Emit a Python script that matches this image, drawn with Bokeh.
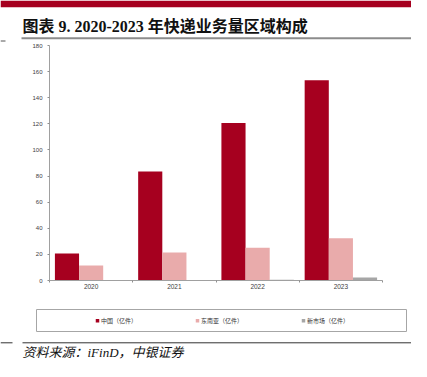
from bokeh.plotting import figure
from bokeh.models import Range1d, FixedTicker, ColumnDataSource
from bokeh.layouts import column
from bokeh.core.properties import value
from bokeh.embed import file_html
from bokeh.resources import INLINE

# ---- data ----
years = ["2020", "2021", "2022", "2023"]
china = [20.7, 83.5, 120.6, 153.4]
sea = [11.5, 21.4, 25.0, 32.3]
new_market = [0.0, 0.0, 0.6, 2.3]
series_names = ["中国（亿件）", "东南亚（亿件）", "新市场（亿件）"]
y_ticks = [0, 20, 40, 60, 80, 100, 120, 140, 160, 180]

title_text = "图表 9. 2020-2023 年快递业务量区域构成"
source_text = "资料来源：iFinD，中银证券"

colors = ["#a6001f", "#e9abab", "#a6a6a6"]
W = 411
CJK = "'Liberation Serif', 'Noto Sans CJK SC'"
SANS_CJK = "'Noto Sans CJK SC'"


def blank(height):
    f = figure(width=W, height=height, output_backend="svg", toolbar_location=None,
               x_range=Range1d(0, W), y_range=Range1d(height, 0),
               min_border=0, outline_line_color=None, background_fill_color="white",
               frame_align=False)
    f.axis.visible = False
    f.grid.visible = False
    return f

# ---- header ----
HH = 42
head = blank(HH)
head.quad(left=[0], right=[W], top=[0], bottom=[6.7], fill_color="#a6001f", line_color=None)
head.text(x=[22], y=[25.5], text=[title_text], text_font=value(CJK), text_font_size="16px",
          text_font_style="bold", text_baseline="middle", text_align="left", text_color="#111111")
head.segment(x0=[21], y0=[37.8], x1=[W], y1=[37.8], line_color="#8c8c8c", line_width=2)
head.segment(x0=[0], y0=[40.5], x1=[5], y1=[40.5], line_color="#555555", line_width=1)

# ---- main chart ----
MH = 258
p = figure(width=W, height=MH, output_backend="svg", toolbar_location=None,
           x_range=Range1d(0, len(years)), y_range=Range1d(0, 180),
           min_border_top=3, min_border_bottom=20, min_border_left=49, min_border_right=29,
           outline_line_color=None, background_fill_color="white", frame_align=False)
p.grid.visible = False

bw = 0.29
offsets = [-bw, 0.0, bw]
for series, off, col in zip([china, sea, new_market], offsets, colors):
    xs = [i + 0.5 + off for i in range(len(years))]
    src = ColumnDataSource(dict(x=xs, top=series))
    p.vbar(x="x", top="top", bottom=0, width=bw, source=src, fill_color=col, line_color=None)

xa = p.xaxis[0]
xa.ticker = FixedTicker(ticks=[i + 0.5 for i in range(len(years))],
                        minor_ticks=list(range(len(years) + 1)))
xa.major_label_overrides = {i + 0.5: y for i, y in enumerate(years)}
xa.major_tick_out = 0
xa.major_tick_in = 0
xa.minor_tick_out = 2
xa.minor_tick_in = 0
xa.minor_tick_line_color = "#909090"
xa.axis_line_color = "#a0a0a0"
xa.major_label_standoff = 1
xa.major_label_text_font_size = "6.5px"
xa.major_label_text_color = "#404040"
xa.major_label_text_font = "Liberation Sans"

ya = p.yaxis[0]
ya.ticker = FixedTicker(ticks=y_ticks)
ya.major_tick_out = 2
ya.major_tick_in = 0
ya.minor_tick_line_color = None
ya.major_tick_line_color = "#909090"
ya.axis_line_color = "#a0a0a0"
ya.major_label_standoff = 5
ya.major_label_text_font_size = "6px"
ya.major_label_text_color = "#404040"
ya.major_label_text_font = "Liberation Sans"

# ---- footer (legend + source) ----
FH = 61
foot = blank(FH)
foot.quad(left=[36], right=[406], top=[9], bottom=[31], fill_color=None,
          line_color="#a6a6a6", line_width=1)
item_x = [97, 197, 303]
foot.scatter(x=item_x, y=[20.3] * 3, marker="square", size=3.5,
             fill_color=colors, line_color=None)
foot.text(x=[x + 3.5 for x in item_x], y=[20.3] * 3, text=series_names,
          text_font=value(SANS_CJK), text_font_size="6px", text_baseline="middle",
          text_align="left", text_color="#333333")
foot.segment(x0=[22], y0=[42.3], x1=[W], y1=[42.3], line_color="#333333", line_width=1)
foot.segment(x0=[0], y0=[42.3], x1=[12], y1=[42.3], line_color="#333333", line_width=1)
foot.text(x=[22], y=[51.5], text=[source_text], text_font=value(CJK), text_font_size="13px",
          text_font_style="italic", text_baseline="middle", text_align="left",
          text_color="#111111")

layout = column(head, p, foot, spacing=0)
open("out.html", "w").write(file_html(layout, INLINE))
